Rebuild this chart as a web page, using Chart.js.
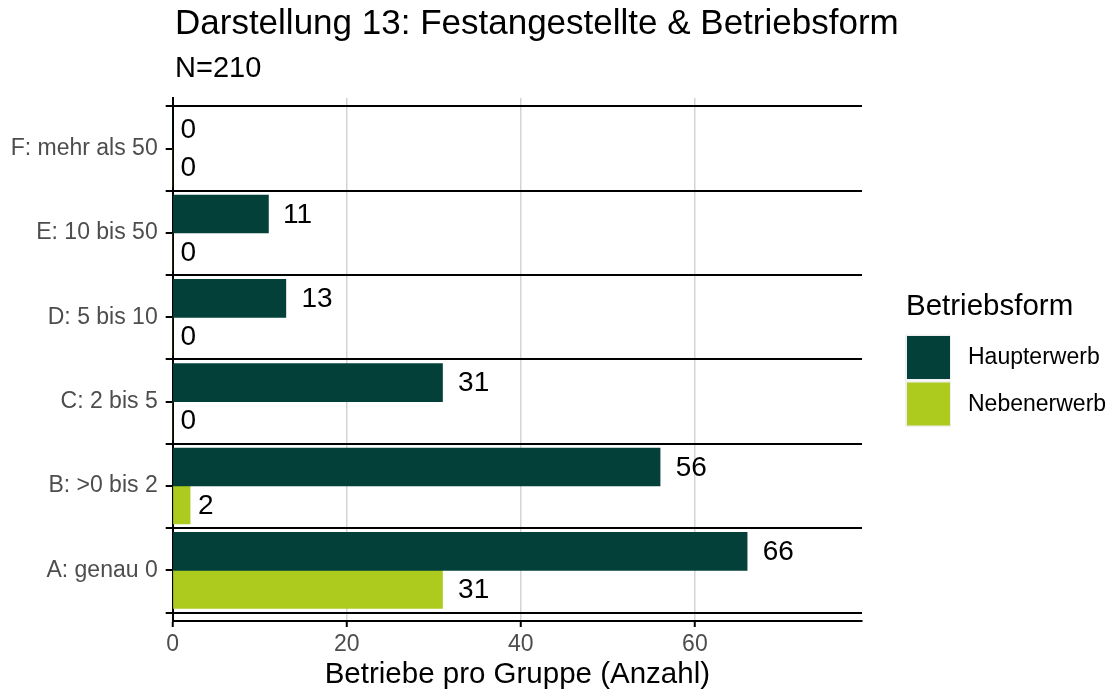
<!DOCTYPE html>
<html>
<head>
<meta charset="utf-8">
<script src="https://cdn.jsdelivr.net/npm/chart.js@4"></script>
<style>
  html, body { margin: 0; padding: 0; background: #fff; }
  canvas { display: block; }
</style>
</head>
<body>
<canvas id="myChart" width="1112" height="696"></canvas>
<script>
const categories = ['A: genau 0', 'B: >0 bis 2', 'C: 2 bis 5', 'D: 5 bis 10', 'E: 10 bis 50', 'F: mehr als 50'];
const haupterwerb = [66, 56, 31, 13, 11, 0];
const nebenerwerb = [31, 2, 0, 0, 0, 0];
const seriesNames = ['Haupterwerb', 'Nebenerwerb'];
const seriesColors = ['#03403a', '#adca1f'];

const FONT = '"Liberation Sans", Arial, sans-serif';

// value labels next to the bars (ggplot hjust = -0.5)
const valueLabels = {
  id: 'valueLabels',
  afterDatasetsDraw(chart) {
    const ctx = chart.ctx;
    ctx.save();
    ctx.font = '28px ' + FONT;
    ctx.fillStyle = '#000';
    ctx.textAlign = 'left';
    ctx.textBaseline = 'middle';
    chart.data.datasets.forEach((ds, di) => {
      chart.getDatasetMeta(di).data.forEach((bar, i) => {
        const txt = String(ds.data[i].x);
        const w = ctx.measureText(txt).width;
        ctx.fillText(txt, bar.x + w * 0.5, bar.y + 1);
      });
    });
    ctx.restore();
  }
};

// title, subtitle and legend
const decorations = {
  id: 'decorations',
  afterDraw(chart) {
    const ctx = chart.ctx;
    ctx.save();
    ctx.fillStyle = '#000';
    ctx.textAlign = 'left';
    ctx.textBaseline = 'alphabetic';
    ctx.font = '35px ' + FONT;
    ctx.fillText('Darstellung 13: Festangestellte & Betriebsform', 175, 34);
    ctx.font = '29px ' + FONT;
    ctx.fillText('N=210', 175, 77);

    // legend
    ctx.font = '29.5px ' + FONT;
    ctx.fillText('Betriebsform', 906, 315);
    ctx.font = '23px ' + FONT;
    seriesNames.forEach((name, i) => {
      const y = 336 + i * 46.5;
      ctx.fillStyle = '#f0f0f0';
      ctx.fillRect(905, y - 1.5, 46, 46);
      ctx.fillStyle = seriesColors[i];
      ctx.fillRect(907, y, 43, 43);
      ctx.fillStyle = '#000';
      ctx.textBaseline = 'middle';
      ctx.fillText(name, 968, y + 22);
    });
    ctx.restore();
  }
};

const data = {
  datasets: [
    {
      label: seriesNames[0],
      data: haupterwerb.map((v, i) => ({ x: v, y: i })),
      backgroundColor: seriesColors[0]
    },
    {
      label: seriesNames[1],
      data: nebenerwerb.map((v, i) => ({ x: v, y: i })),
      backgroundColor: seriesColors[1]
    }
  ]
};

const config = {
  type: 'bar',
  data: data,
  options: {
    indexAxis: 'y',
    responsive: false,
    animation: false,
    devicePixelRatio: 1,
    barThickness: 38,
    layout: {
      padding: { top: 98, right: 250, bottom: 0, left: 0 }
    },
    plugins: {
      legend: { display: false },
      title: { display: false },
      tooltip: { enabled: false }
    },
    scales: {
      x: {
        type: 'linear',
        min: 0,
        max: 79.2,
        afterFit(scale) { scale.height = 75; },
        ticks: {
          stepSize: 20,
          includeBounds: false,
          color: '#4d4d4d',
          padding: 4,
          font: { family: FONT, size: 23 }
        },
        grid: {
          color: '#d4d4d4',
          lineWidth: 1.5,
          tickColor: '#000',
          tickWidth: 2,
          tickLength: 6
        },
        border: { display: true, color: '#000', width: 2 },
        title: {
          display: true,
          text: 'Betriebe pro Gruppe (Anzahl)',
          color: '#000',
          padding: { top: 0, bottom: 3 },
          font: { family: FONT, size: 29.5 }
        }
      },
      y: {
        type: 'linear',
        min: -0.6,
        max: 5.6,
        offset: false,
        afterFit(scale) { scale.width = 172.7; },
        afterBuildTicks(scale) {
          const t = [];
          for (let v = -0.5; v <= 5.5; v += 0.5) t.push({ value: v });
          scale.ticks = t;
        },
        ticks: {
          autoSkip: false,
          color: '#4d4d4d',
          padding: 8,
          font: { family: FONT, size: 23 },
          callback: (value) => Number.isInteger(value) ? categories[value] : ''
        },
        grid: {
          offset: false,
          color: (c) => (c.tick && Number.isInteger(c.tick.value)) ? 'rgba(0,0,0,0)' : '#000',
          lineWidth: 2,
          tickColor: '#000',
          tickWidth: 2,
          tickLength: 7
        },
        border: { display: true, color: '#000', width: 2 }
      }
    }
  },
  plugins: [valueLabels, decorations]
};

const myChart = new Chart(document.getElementById('myChart'), config);
</script>
</body>
</html>
